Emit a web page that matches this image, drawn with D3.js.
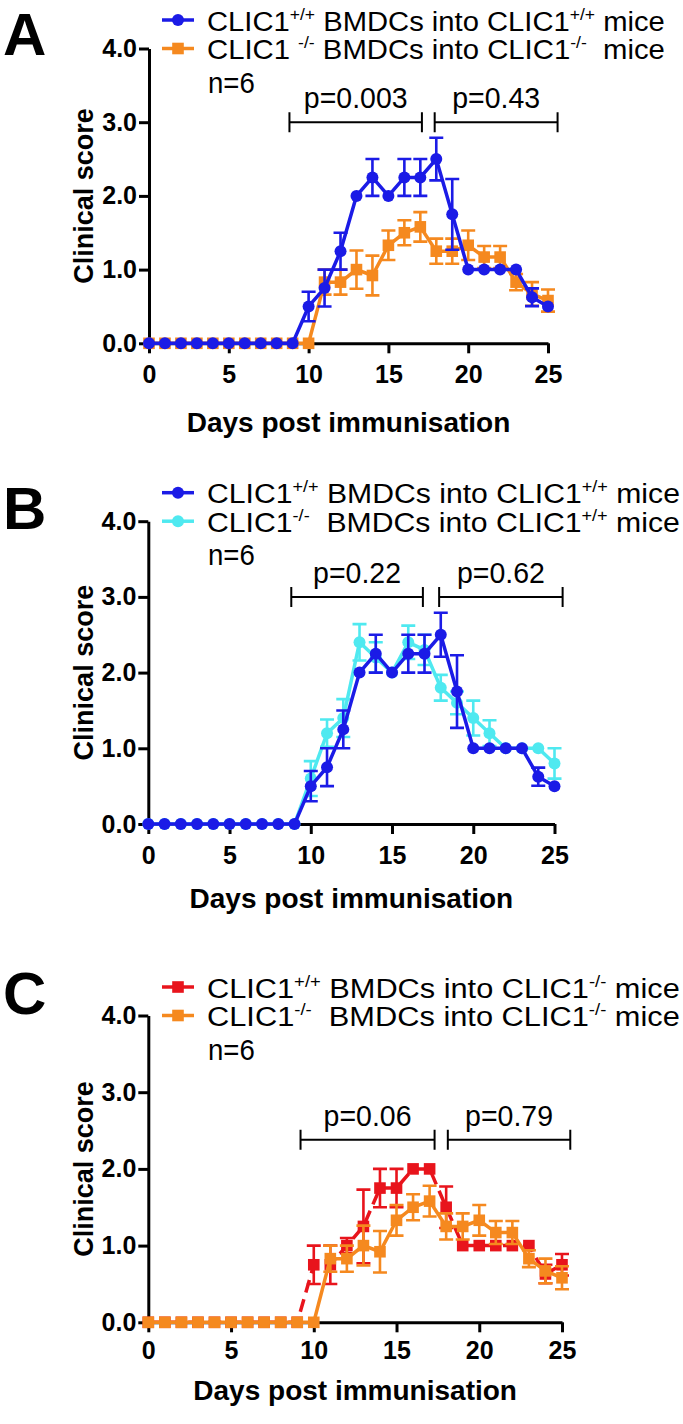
<!DOCTYPE html>
<html lang="en">
<head>
    <meta charset="UTF-8">
    <title>Clinical score</title>
    <script src="https://cdnjs.cloudflare.com/ajax/libs/d3/7.8.5/d3.min.js"></script>
    <style>
        body { margin: 0; background: #fff; }
        text { font-family: "Liberation Sans", Arial, sans-serif; fill: #000; white-space: pre; }
        .axis path, .axis line { stroke: #000; stroke-width: 3; fill: none; }
        .axis text { font-size: 25px; font-weight: bold; }
    </style>
</head>
<body>
<svg id="vis" width="683" height="1424"></svg>
<script>
    // days 0..25
    const days = d3.range(0, 26);
    const xTicks = [0, 5, 10, 15, 20, 25];
    const yTicks = [0, 1, 2, 3, 4];

    // CLIC1+/+ BMDCs into CLIC1+/+ mice
    const wtIntoWt    = [0,0,0,0,0,0,0,0,0,0, 0.5,0.75,1.25,2.0,2.25,2.0,2.25,2.25,2.5,1.75,1.0,1.0,1.0,1.0,0.625,0.5];
    const wtIntoWtErr = [0,0,0,0,0,0,0,0,0,0, 0.2,0.25,0.25,0,0.25,0,0.25,0.25,0.29,0.48,0,0,0,0,0.12,0];
    // CLIC1-/- BMDCs into CLIC1-/- mice
    const koIntoKo    = [0,0,0,0,0,0,0,0,0,0,0, 0.83,0.83,1.0,0.92,1.33,1.5,1.58,1.25,1.25,1.33,1.17,1.17,0.83,0.67,0.58];
    const koIntoKoErr = [0,0,0,0,0,0,0,0,0,0,0, 0.17,0.17,0.26,0.27,0.2,0.17,0.2,0.17,0.17,0.2,0.15,0.15,0.11,0.16,0.15];
    // CLIC1-/- BMDCs into CLIC1+/+ mice
    const koIntoWt    = [0,0,0,0,0,0,0,0,0,0, 0.6,1.2,1.4,2.4,2.2,2.0,2.4,2.3,1.8,1.6,1.4,1.2,1.0,1.0,1.0,0.8];
    const koIntoWtErr = [0,0,0,0,0,0,0,0,0,0, 0.23,0.18,0.25,0.24,0.2,0,0.22,0.2,0.17,0.15,0.23,0.17,0,0,0,0.2];
    // CLIC1+/+ BMDCs into CLIC1-/- mice
    const wtIntoKo    = [0,0,0,0,0,0,0,0,0,0, 0.75,0.75,1.0,1.25,1.75,1.75,2.0,2.0,1.5,1.0,1.0,1.0,1.0,1.0,0.63,0.75];
    const wtIntoKoErr = [0,0,0,0,0,0,0,0,0,0, 0.25,0.25,0.1,0.48,0.25,0.25,0,0,0.27,0,0,0,0,0,0.12,0.14];

    const blue = "#1b1be6", orange = "#f5891f", cyan = "#4fe9f0", red = "#e8141c";

    const panels = [
        {
            letter: "A", y0: 343.3, y4: 48.5, x0: 149, x25: 548, letterY: 55, labelY: 383, titleY: 432, legendEnd: 665,
            series: [
                {values: koIntoKo, err: koIntoKoErr, color: orange, shape: "square", dash: null},
                {values: wtIntoWt, err: wtIntoWtErr, color: blue, shape: "circle", dash: null}
            ],
            legend: [
                {text: "CLIC1^{+/+} BMDCs into CLIC1^{+/+} mice", s: 1},
                {text: "CLIC1 ^{-/-} BMDCs into CLIC1^{-/-}  mice", s: 0}
            ],
            pvals: [
                {from: 8.8, to: 17.1, level: 3.0, label: "p=0.003"},
                {from: 17.9, to: 25.6, level: 3.0, label: "p=0.43"}
            ]
        },
        {
            letter: "B", y0: 824, y4: 521.2, x0: 148.3, x25: 554.5, letterY: 529, labelY: 864, titleY: 908, legendEnd: 680,
            series: [
                {values: koIntoWt, err: koIntoWtErr, color: cyan, shape: "circle", dash: null},
                {values: wtIntoWt, err: wtIntoWtErr, color: blue, shape: "circle", dash: null}
            ],
            legend: [
                {text: "CLIC1^{+/+} BMDCs into CLIC1^{+/+} mice", s: 1},
                {text: "CLIC1^{-/-}  BMDCs into CLIC1^{+/+} mice", s: 0}
            ],
            pvals: [
                {from: 8.8, to: 16.9, level: 3.0, label: "p=0.22"},
                {from: 17.9, to: 25.5, level: 3.0, label: "p=0.62"}
            ]
        },
        {
            letter: "C", y0: 1322.3, y4: 1015.5, x0: 148.3, x25: 562, letterY: 1014, labelY: 1359, titleY: 1400, legendEnd: 680,
            series: [
                {values: wtIntoKo, err: wtIntoKoErr, color: red, shape: "square", dash: "13,7"},
                {values: koIntoKo, err: koIntoKoErr, color: orange, shape: "square", dash: null}
            ],
            legend: [
                {text: "CLIC1^{+/+} BMDCs into CLIC1^{-/-} mice", s: 0},
                {text: "CLIC1^{-/-}  BMDCs into CLIC1^{-/-} mice", s: 1}
            ],
            pvals: [
                {from: 9.2, to: 17.3, level: 2.38, label: "p=0.06"},
                {from: 18.1, to: 25.5, level: 2.38, label: "p=0.79"}
            ]
        }
    ];

    const svg = d3.select("#vis");

    function drawMarker(g, shape, cx, cy, color) {
        if (shape === "circle") {
            g.append("circle").attr("cx", cx).attr("cy", cy).attr("r", 6).attr("fill", color);
        } else {
            g.append("rect").attr("x", cx - 5.8).attr("y", cy - 5.8).attr("width", 11.6).attr("height", 11.6).attr("fill", color);
        }
    }

    // text with ^{...} superscripts
    function richText(t, str, size) {
        const parts = str.split(/(\^\{[^}]*\})/);
        let up = false;
        parts.forEach(function(p) {
            if (!p) return;
            if (p.startsWith("^{")) {
                t.append("tspan").attr("dy", -11).style("font-size", (size * 0.6) + "px").text(p.slice(2, -1));
                up = true;
            } else {
                t.append("tspan").attr("dy", up ? 11 : 0).style("font-size", size + "px").text(p);
                up = false;
            }
        });
    }

    // squeeze a plain text horizontally (the source font is narrow)
    function narrow(t, cx, cy, k) {
        t.attr("transform", "translate(" + cx + "," + cy + ") scale(" + k + ",1)");
    }

    panels.forEach(function(p) {
        const g = svg.append("g");
        const x = d3.scaleLinear().domain([0, 25]).range([p.x0, p.x25]);
        const y = d3.scaleLinear().domain([0, 4]).range([p.y0, p.y4]);

        // panel letter
        g.append("text").attr("x", 3).attr("y", p.letterY)
            .style("font-size", "60px").style("font-weight", "bold").text(p.letter);

        // axes
        g.append("g").attr("class", "axis")
            .attr("transform", "translate(" + p.x0 + ",0)")
            .call(d3.axisLeft(y).tickValues(yTicks).tickFormat(d3.format(".1f")).tickSize(10).tickPadding(2).tickSizeOuter(0));

        const xa = g.append("g").attr("class", "axis")
            .attr("transform", "translate(0," + p.y0 + ")")
            .call(d3.axisBottom(x).tickValues(xTicks).tickSize(10).tickSizeOuter(0));
        xa.selectAll("text").attr("dy", null).attr("y", p.labelY - p.y0);

        g.append("text").attr("text-anchor", "middle")
            .attr("transform", "translate(93," + ((p.y0 + p.y4) / 2) + ") rotate(-90)")
            .style("font-size", "27px").style("font-weight", "bold").text("Clinical score");

        g.append("text").attr("text-anchor", "middle")
            .attr("x", (p.x0 + p.x25) / 2).attr("y", p.titleY)
            .style("font-size", "28px").style("font-weight", "bold").text("Days post immunisation");

        // p-value brackets
        p.pvals.forEach(function(b) {
            const by = y(b.level);
            g.append("path")
                .attr("d", "M" + x(b.from) + "," + (by - 10) + "V" + (by + 10) + "M" + x(b.from) + "," + by +
                    "H" + x(b.to) + "M" + x(b.to) + "," + (by - 10) + "V" + (by + 10))
                .attr("stroke", "#000").attr("stroke-width", 2).attr("fill", "none");
            const t = g.append("text").attr("text-anchor", "middle").style("font-size", "30px").text(b.label);
            narrow(t, (x(b.from) + x(b.to)) / 2, by - 14, 0.95);
        });

        // series
        p.series.forEach(function(s) {
            const sg = g.append("g");
            const pts = days.map(function(d, i) { return {d: d, v: s.values[i], e: s.err[i]}; });
            sg.append("path").datum(pts)
                .attr("d", d3.line().x(function(q) { return x(q.d); }).y(function(q) { return y(q.v); }))
                .attr("fill", "none").attr("stroke", s.color).attr("stroke-width", 3.5)
                .attr("stroke-dasharray", s.dash);
            pts.filter(function(q) { return q.e > 0; }).forEach(function(q) {
                const cx = x(q.d), top = y(q.v + q.e), bot = y(q.v - q.e);
                sg.append("path")
                    .attr("d", "M" + cx + "," + top + "V" + bot + "M" + (cx - 7) + "," + top + "H" + (cx + 7) +
                        "M" + (cx - 7) + "," + bot + "H" + (cx + 7))
                    .attr("stroke", s.color).attr("stroke-width", 2.6).attr("fill", "none");
            });
            pts.forEach(function(q) { drawMarker(sg, s.shape, x(q.d), y(q.v), s.color); });
        });

        // legend
        p.legend.forEach(function(l, i) {
            const ly = p.y4 + (i - 1) * 28.5;
            const s = p.series[l.s];
            g.append("line").attr("x1", 162).attr("x2", 194).attr("y1", ly).attr("y2", ly)
                .attr("stroke", s.color).attr("stroke-width", 3.5);
            drawMarker(g, s.shape, 178, ly, s.color);
            const t = g.append("text").attr("x", 0).attr("y", 0);
            richText(t, l.text, 28);
            const w = t.node().getComputedTextLength();
            t.attr("transform", "translate(207," + (ly + 10.5) + ") scale(" + ((p.legendEnd - 207) / w) + ",1)");
        });
        const n = g.append("text").style("font-size", "30px").text("n=6");
        narrow(n, 208, p.y4 + 44, 0.92);
    });
</script>
</body>
</html>
